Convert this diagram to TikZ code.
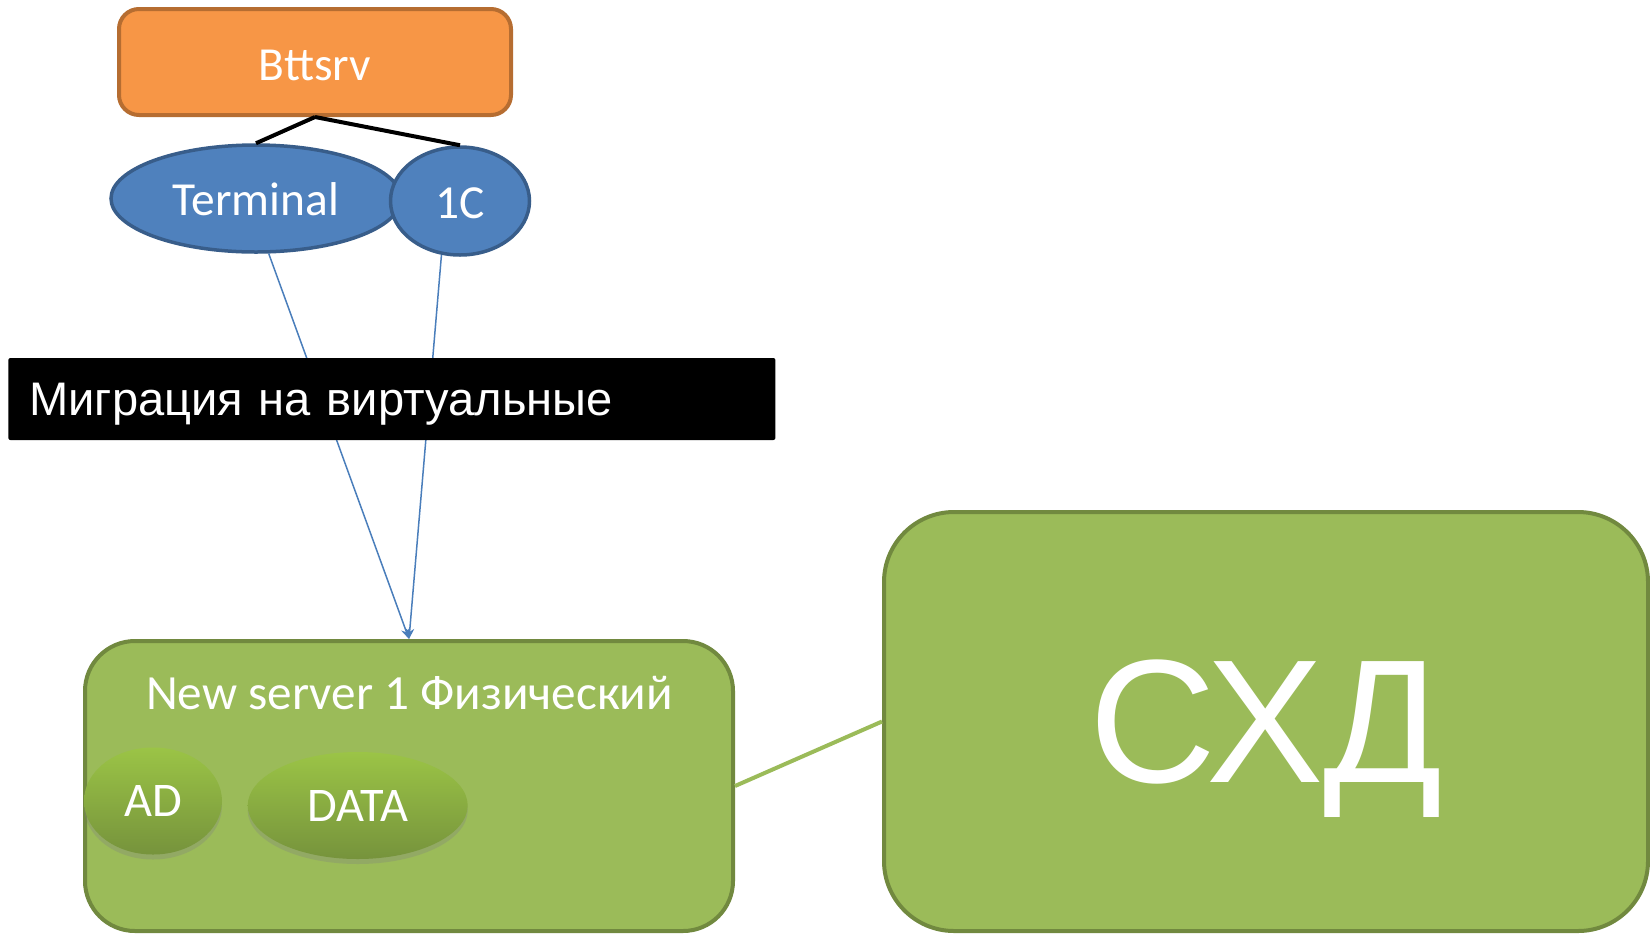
\documentclass[tikz,border=0pt]{standalone}
\usepackage{fontspec}
\setmainfont{Carlito}
\newfontfamily\arialfont{Liberation Sans}
\usetikzlibrary{positioning,shapes.geometric,shadows,arrows.meta}
\definecolor{cO}{HTML}{F79646}
\definecolor{cOd}{HTML}{B66D31}
\definecolor{cB}{HTML}{4F81BD}
\definecolor{cBd}{HTML}{385D8A}
\definecolor{cG}{HTML}{9BBB59}
\definecolor{cGd}{HTML}{71893F}
\definecolor{cGt}{HTML}{9BC446}
\definecolor{cGb}{HTML}{76933C}
\definecolor{cL}{HTML}{4A7EBB}
\tikzset{mybox/.style={
  shape=rectangle,
  rounded corners=0.4cm,
  draw=cOd,
  fill=cO,
  line width=0.08cm,
  inner sep=0pt,
  text height=0.72cm,
  text depth=0pt,
  text=white,
  font=\fontsize{27}{32}\selectfont,
  }
}
\tikzset{myoval/.style={
  shape=ellipse,
  draw=cBd,
  fill=cB,
  line width=0.07cm,
  inner sep=0pt,
  text height=0.68cm,
  text depth=0pt,
  text=white,
  font=\fontsize{27}{32}\selectfont,
  }
}
\tikzset{myblock/.style={
  shape=rectangle,
  draw=cGd,
  fill=cG,
  line width=0.08cm,
  inner sep=0pt,
  text=white,
  }
}
\tikzset{mypill/.style={
  shape=ellipse,
  top color=cGt,
  bottom color=cGb,
  draw=none,
  inner sep=0pt,
  minimum height=2.14cm,
  drop shadow={shadow xshift=0cm, shadow yshift=-0.1cm, opacity=0.3},
  text=white,
  font=\fontsize{27.5}{33}\selectfont,
  }
}
\tikzset{mybar/.style={
  shape=rectangle,
  fill=black,
  rounded corners=0.04cm,
  minimum height=1.64cm,
  text width=14.5cm,
  text depth=0pt,
  align=left,
  inner xsep=0.42cm,
  inner ysep=0pt,
  text=white,
  font=\arialfont\fontsize{26.8}{32}\selectfont,
  }
}
\tikzset{mylink/.style={draw=black, line width=0.08cm}}
\tikzset{myline/.style={draw=cL, line width=0.03cm, -{Stealth[length=6pt,width=5pt]}}}
\tikzset{mywire/.style={draw=cG, line width=0.08cm}}

\begin{document}
\begin{tikzpicture}
  \useasboundingbox (0,0) rectangle (33,-18.7);

  \node [mybox, minimum width=7.84cm, minimum height=2.12cm] (b1) at (6.30,-1.24) {Bttsrv};
  \node [myoval, minimum width=5.8cm, minimum height=2.14cm] (v1) at (5.12,-3.97) {Terminal};
  \node [myoval, minimum width=2.78cm, minimum height=2.16cm, right=-0.28cm of v1, yshift=-0.05cm] (v2) {1C};

  \node [myblock, rounded corners=1cm, minimum width=12.96cm, minimum height=5.8cm] (s1) at (8.18,-15.72) {};
  \node [anchor=base, text=white, font=\fontsize{28}{33}\selectfont] (t1) at (8.19,-14.18) {New server 1 Физический};
  \node [mypill, minimum width=2.76cm] (d1) at (3.06,-16.02) {AD};
  \node [mypill, minimum width=4.4cm, right=0.5cm of d1, yshift=-0.09cm] (d2) {DATA};

  \node [myblock, rounded corners=1.4cm, minimum width=15.28cm, minimum height=8.38cm,
         text depth=0pt, font=\arialfont\fontsize{100}{110}\selectfont] (x1) at (25.32,-14.43) {СХД};

  \draw [mylink] (b1.south) -- (v1.north);
  \draw [mylink] (b1.south) -- (v2.north);

  \draw [myline] (v1.-77.5) -- (s1.north);
  \draw [myline] (v2.-109.5) -- (s1.north);

  \node [mybar, anchor=west] (l1) at (0.16,-7.98) {Миграция на виртуальные};

  \draw [mywire] (s1.east) -- (x1.west);
\end{tikzpicture}
\end{document}
